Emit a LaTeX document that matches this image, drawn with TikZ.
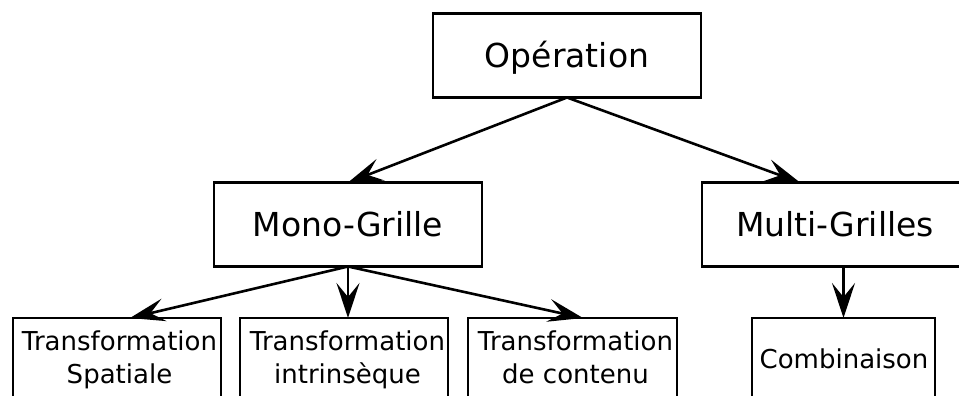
\documentclass[tikz,border=0pt]{standalone}
\usepackage{fontspec}
\setmainfont{DejaVu Sans}
\usetikzlibrary{arrows.meta}
\begin{document}
\begin{tikzpicture}[x=1pt,y=-1pt,
 bigbox/.style={draw, line width=2.6pt, minimum width=268pt, minimum height=84pt, inner sep=0pt, outer sep=0pt, text height=24pt, text depth=0pt, font=\fontsize{33}{40}\selectfont},
 leafbox/.style={draw, line width=2.6pt, minimum height=110pt, inner sep=0pt, outer sep=0pt, anchor=north},
 leaftext/.style={inner sep=0pt, align=center, font=\fontsize{26}{33}\selectfont},
 link/.style={line width=2.6pt, -{Stealth[length=35pt,width=23pt,inset=14pt]}}
]
\useasboundingbox (0,0) rectangle (959,396);
\clip (0,0) rectangle (959,396);
% top levels
\node[bigbox] (op) at (567,55.5) {Opération};
\node[bigbox] (mono) at (348,224.5) {Mono-Grille};
\node[bigbox, minimum width=266pt] (multi) at (835,224.5) {Multi-Grilles};
% leaves
\node[leafbox, minimum width=208pt] (sp) at (117,318) {};
\node[leafbox, minimum width=208pt] (in) at (344,318) {};
\node[leafbox, minimum width=209pt] (ct) at (572.5,318) {};
\node[leafbox, minimum width=183pt] (cb) at (843.5,318) {};
\node[leaftext, anchor=north] (spt) at (119.5,330.5) {Transformation\\Spatiale};
\node[leaftext, anchor=north] (int) at (347.5,330.5) {Transformation\\intrinsèque};
\node[leaftext, anchor=north] (ctt) at (575.5,330.5) {Transformation\\de contenu};
\node[leaftext, anchor=base] (cbt) at (844,368) {Combinaison};
% connectors
\draw[link] (op.south) -- (mono.north);
\draw[link] (op.south) -- ([xshift=-35pt]multi.north);
\draw[link] (mono.south) -- ([xshift=13pt]sp.north);
\draw[link] (mono.south) -- (mono.south |- in.north);
\draw[link] (mono.south) -- ([xshift=10.5pt]ct.north);
\draw[link] (cb.north |- multi.south) -- (cb.north);
\end{tikzpicture}
\end{document}
